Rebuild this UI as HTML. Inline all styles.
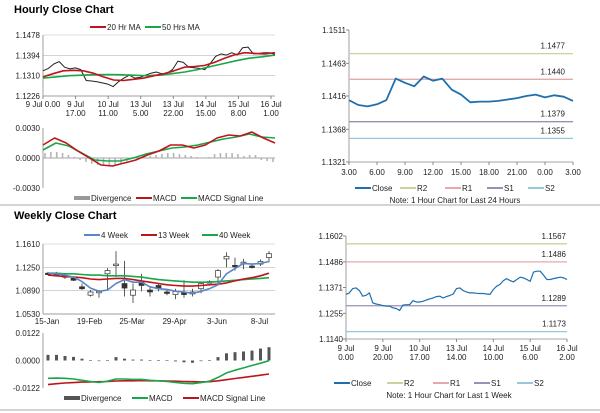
<!DOCTYPE html>
<html><head><meta charset="utf-8"><style>
body{margin:0;background:#fff;font-family:"Liberation Sans",sans-serif;}
svg{display:block}
text{font-family:"Liberation Sans",sans-serif;font-size:8px;fill:#222}
.t{font-size:11px;font-weight:bold;fill:#000}
</style></head><body>
<svg id="s" width="600" height="413">
<line x1="0" y1="205" x2="600" y2="205" stroke="#aaa"/>
<line x1="0" y1="410" x2="600" y2="410" stroke="#aaa"/>
<text x="14" y="13" class="t">Hourly Close Chart</text>
<text x="14" y="219" class="t">Weekly Close Chart</text>
</svg>
<script>
// ---------- data ----------
const hClose=[1.1330,1.1340,1.1358,1.1368,1.1345,1.1338,1.1342,1.1335,1.1290,1.1288,1.1285,1.1280,1.1275,1.1265,1.1285,1.1300,1.1312,1.1300,1.1303,1.1312,1.1320,1.1325,1.1318,1.1320,1.1335,1.1370,1.1365,1.1345,1.1343,1.1340,1.1335,1.1360,1.1390,1.1400,1.1395,1.1405,1.1395,1.1425,1.1428,1.1400,1.1402,1.1405,1.1405,1.1398];
const hMA20=[1.1305,1.1318,1.1330,1.1332,1.1330,1.1320,1.1305,1.1292,1.1290,1.1295,1.1300,1.1310,1.1318,1.1330,1.1345,1.1348,1.1352,1.1365,1.1382,1.1396,1.1405,1.1402,1.1400,1.1405];
const hMA50=[1.1300,1.1305,1.1310,1.1312,1.1314,1.1315,1.1314,1.1312,1.1310,1.1312,1.1318,1.1325,1.1335,1.1348,1.1360,1.1372,1.1382,1.1388,1.1395];
const hXLabels=[["9 Jul 0.00",""],["9 Jul","17.00"],["10 Jul","11.00"],["13 Jul","5.00"],["13 Jul","22.00"],["14 Jul","15.00"],["15 Jul","8.00"],["16 Jul","1.00"]];
const hYTicks=[1.1478,1.1394,1.1310,1.1226];
const hMacd=[0.0013,0.0020,0.0015,0.0007,0.0000,-0.0007,-0.0008,-0.0005,-0.0002,0.0003,0.0007,0.0013,0.0013,0.0010,0.0013,0.0020,0.0023,0.0022,0.0026,0.0020,0.0015];
const hSignal=[0.0008,0.0015,0.0012,0.0005,-0.0002,-0.0003,-0.0003,0.0000,0.0004,0.0007,0.0010,0.0011,0.0013,0.0016,0.0019,0.0021,0.0024,0.0021,0.0020];
const hDiv=[0.0005,0.0006,0.0006,0.0005,0.0003,0.0001,-0.0002,-0.0004,-0.0006,-0.0007,-0.0008,-0.0008,-0.0007,-0.0005,-0.0003,0.0001,0.0002,0.0002,0.0002,0.0003,0.0004,0.0005,0.0005,0.0004,0.0003,0.0002,0.0001,0.0000,0.0001,0.0004,0.0005,0.0005,0.0005,0.0004,0.0002,0.0003,0.0003,-0.0002,-0.0003,-0.0004];
const macdTicks=[0.0030,0.0000,-0.0030];

const dClose=[1.1410,1.1403,1.1401,1.1404,1.1410,1.1441,1.1435,1.1430,1.1444,1.1438,1.1441,1.1425,1.1418,1.1407,1.1408,1.1408,1.1409,1.1411,1.1413,1.1416,1.1418,1.1414,1.1417,1.1415,1.1409];
const dXLabels=["3.00","6.00","9.00","12.00","15.00","18.00","21.00","0.00","3.00"];
const dYTicks=[1.1511,1.1463,1.1416,1.1368,1.1321];
const dLevels=[1.1477,1.1440,1.1379,1.1355];

const wOpen =[1.116,1.115,1.112,1.108,1.095,1.082,1.086,1.115,1.130,1.100,1.082,1.102,1.090,1.097,1.087,1.083,1.086,1.084,1.092,1.101,1.110,1.138,1.128,1.130,1.127,1.130,1.140];
const wClose=[1.115,1.114,1.110,1.105,1.092,1.087,1.088,1.120,1.130,1.093,1.090,1.097,1.087,1.092,1.085,1.088,1.083,1.087,1.100,1.103,1.120,1.142,1.127,1.133,1.126,1.134,1.146];
const wHigh =[1.118,1.118,1.115,1.110,1.100,1.090,1.090,1.124,1.150,1.135,1.100,1.115,1.095,1.100,1.090,1.092,1.105,1.092,1.102,1.105,1.122,1.148,1.140,1.138,1.130,1.137,1.150];
const wLow  =[1.113,1.112,1.107,1.104,1.090,1.080,1.078,1.090,1.110,1.080,1.070,1.088,1.080,1.088,1.082,1.076,1.078,1.080,1.085,1.100,1.100,1.125,1.120,1.122,1.123,1.127,1.133];
const w4=[1.116,1.115,1.113,1.110,1.103,1.093,1.088,1.090,1.100,1.106,1.102,1.102,1.095,1.092,1.091,1.088,1.087,1.085,1.088,1.092,1.098,1.115,1.123,1.131,1.130,1.131,1.134];
const w13=[1.113,1.112,1.111,1.110,1.109,1.107,1.106,1.107,1.108,1.108,1.106,1.104,1.102,1.100,1.098,1.097,1.096,1.096,1.097,1.098,1.099,1.101,1.104,1.107,1.109,1.112,1.116];
const w40=[1.116,1.116,1.115,1.115,1.114,1.113,1.113,1.112,1.112,1.112,1.111,1.110,1.108,1.106,1.105,1.104,1.103,1.102,1.102,1.102,1.103,1.104,1.105,1.106,1.107,1.108,1.109];
const wXLabels=["15-Jan","19-Feb","25-Mar","29-Apr","3-Jun","8-Jul"];
const wYTicks=[1.1610,1.1250,1.0890,1.0530];
const wMacd=[-0.0079,-0.0078,-0.0079,-0.0082,-0.0088,-0.0093,-0.0097,-0.0092,-0.0082,-0.0082,-0.0084,-0.0084,-0.0088,-0.0090,-0.0093,-0.0097,-0.0101,-0.0103,-0.0098,-0.0092,-0.0075,-0.0055,-0.0043,-0.0033,-0.0022,-0.0012,-0.0001];
const wSignal=[-0.0107,-0.0103,-0.0100,-0.0098,-0.0096,-0.0095,-0.0094,-0.0093,-0.0091,-0.0090,-0.0090,-0.0089,-0.0090,-0.0090,-0.0091,-0.0092,-0.0093,-0.0094,-0.0095,-0.0094,-0.0090,-0.0085,-0.0080,-0.0075,-0.0070,-0.0065,-0.0060];
const wDiv=[0.0025,0.0025,0.0020,0.0016,0.0008,0.0002,-0.0002,0.0002,0.0015,0.0008,0.0004,0.0004,0.0002,0.0001,0.0002,-0.0004,-0.0008,-0.0010,-0.0003,0.0002,0.0015,0.0032,0.0037,0.0040,0.0044,0.0053,0.0059];
const wMacdTicks=[0.0122,0.0000,-0.0122];

const kClose=[1.1340,1.1347,1.1366,1.1369,1.1357,1.1332,1.1336,1.1347,1.1302,1.1297,1.1294,1.1290,1.1287,1.1287,1.1280,1.1277,1.1268,1.1292,1.1294,1.1294,1.1312,1.1306,1.1306,1.1309,1.1315,1.1320,1.1324,1.1330,1.1332,1.1324,1.1330,1.1335,1.1342,1.1366,1.1369,1.1357,1.1351,1.1347,1.1347,1.1345,1.1344,1.1344,1.1342,1.1340,1.1362,1.1377,1.1385,1.1402,1.1411,1.1402,1.1396,1.1407,1.1417,1.1414,1.1407,1.1399,1.1440,1.1444,1.1444,1.1426,1.1407,1.1407,1.1411,1.1414,1.1417,1.1414,1.1407];
const kXLabels=[["9 Jul","0.00"],["9 Jul","20.00"],["10 Jul","17.00"],["13 Jul","14.00"],["14 Jul","10.00"],["15 Jul","6.00"],["16 Jul","2.00"]];
const kYTicks=[1.1602,1.1486,1.1371,1.1255,1.1140];
const kLevels=[1.1567,1.1486,1.1289,1.1173];

const levelColors=["#c6d69a","#e6a8a8","#9b8fb3","#93c9d8"];
const levelNames=["r2","r1","s1","s2"];

// ---------- helpers ----------
const S=document.getElementById('s');const NS="http://www.w3.org/2000/svg";
function mk(tag,attrs,txt){const e=document.createElementNS(NS,tag);for(const k in attrs)e.setAttribute(k,attrs[k]);if(txt!==undefined)e.textContent=txt;S.appendChild(e);return e;}
function lin(d0,d1,r0,r1){return v=>r0+(v-d0)/(d1-d0)*(r1-r0);}
function poly(arr,xf,yf,color,w,name){
  const pts=arr.map((v,i)=>xf(i).toFixed(1)+","+yf(v).toFixed(1)).join(" ");
  const p=mk('polyline',{points:pts,fill:'none',stroke:color,'stroke-width':w,'stroke-linejoin':'round'});
  
  
}
function yaxis(ticks,yf,x0,x1,fmt,grid,prefix){
  ticks.forEach(t=>{
    if(grid){const g=mk('line',{x1:x0,x2:x1,y1:yf(t),y2:yf(t),stroke:'#bbb','stroke-width':0.6});
      
      }
    const l=mk('text',{x:x0-3,y:yf(t)+3,'text-anchor':'end'},t.toFixed(4));
    
    
  });
}
function axisLine(x0,y0,x1,y1,name){const a=mk('line',{x1:x0,y1:y0,x2:x1,y2:y1,stroke:'#888','stroke-width':0.8});
  
  }
function legendItem(x,y,color,label,w,name,thick){
  const l=mk('line',{x1:x,x2:x+16,y1:y,y2:y,stroke:color,'stroke-width':thick||2});
  
  
  const t=mk('text',{x:x+17,y:y+3},label);
  
  
}

// ---------- Panel 1: hourly ----------
{
 const X0=43,X1=275,yf=lin(1.1478,1.1226,35,96);
 yaxis(hYTicks,yf,X0,X1,null,true,'hourly');
 axisLine(X0,35,X0,96,'hourly-y-axis');axisLine(X0,96,X1,96,'hourly-x-axis');
 hXLabels.forEach((l,i)=>{const x=X0+i*(X1-4-X0)/7;
   const tk=mk('line',{x1:x,x2:x,y1:96,y2:99,stroke:'#888'});
   
   
   const t=mk('text',{x:x,y:107,'text-anchor':'middle'},l[0]);
   
   
   if(l[1]){const t2=mk('text',{x:x,y:116,'text-anchor':'middle'},l[1]);
   
   }
 });
 poly(hClose,i=>X0+i*(X1-X0)/(hClose.length-1),yf,'#222',1,'hourly-close-line');
 poly(hMA50,i=>X0+i*(X1-X0)/(hMA50.length-1),yf,'#1aa64a',1.6,'ma50-line');
 poly(hMA20,i=>X0+i*(X1-X0)/(hMA20.length-1),yf,'#c0141b',1.6,'ma20-line');
 legendItem(90,27,'#c0141b','20 Hr MA',0,'legend-20hr-ma');
 legendItem(145,27,'#1aa64a','50 Hrs MA',0,'legend-50hrs-ma');
 const my=lin(0.003,-0.003,128,188);
 yaxis(macdTicks,my,X0,X1,null,false,'hourly-macd');
 axisLine(X0,128,X0,188,'hourly-macd-y-axis');
 axisLine(X0,158,X1,158,'hourly-macd-zero');
 hDiv.forEach((v,i)=>{const x=X0+2+i*(X1-X0-4)/(hDiv.length-1);
   const b=mk('rect',{x:x-0.8,y:Math.min(my(v),my(0)),width:1.6,height:Math.abs(my(v)-my(0)),fill:'#b5b5b5'});
   
   });
 poly(hSignal,i=>X0+i*(X1-X0)/(hSignal.length-1),my,'#1aa64a',1.6,'hourly-macd-signal-line');
 poly(hMacd,i=>X0+i*(X1-X0)/(hMacd.length-1),my,'#c0141b',1.6,'hourly-macd-line');
 legendItem(74,198,'#999','Divergence',0,'legend-hourly-divergence',4);
 legendItem(136,198,'#c0141b','MACD',0,'legend-hourly-macd');
 legendItem(181,198,'#1aa64a','MACD Signal Line',0,'legend-hourly-signal');
}
// ---------- Panel 2: daily 24h ----------
{
 const X0=349,X1=573,yf=lin(1.1511,1.1321,30,162);
 yaxis(dYTicks,yf,X0,X1,null,false,'day');
 axisLine(X0,30,X0,162,'day-y-axis');axisLine(X0,162,X1,162,'day-x-axis');
 dYTicks.forEach(t=>{const tk=mk('line',{x1:X0-3,x2:X0,y1:yf(t),y2:yf(t),stroke:'#888'});
   
   });
 const xf=i=>X0+i*(X1-X0)/(dClose.length-1);
 dXLabels.forEach((l,i)=>{const x=xf(i*3);
   const tk=mk('line',{x1:x,x2:x,y1:162,y2:165,stroke:'#888'});
   
   
   const t=mk('text',{x:x,y:175,'text-anchor':'middle'},l);
   
   });
 dLevels.forEach((v,i)=>{const y=yf(v);
   const l=mk('line',{x1:X0,x2:X1,y1:y,y2:y,stroke:levelColors[i],'stroke-width':1.3});
   
   
   const t=mk('text',{x:X1-8,y:y-5,'text-anchor':'end','font-size':'8.5px'},v.toFixed(4));
   
   });
 poly(dClose,xf,yf,'#1f6fae',1.8,'day-close-line');
 legendItem(355,188,'#1f6fae','Close',0,'legend-day-close');
 legendItem(400,188,'#c6d69a','R2',0,'legend-day-r2');
 legendItem(445,188,'#e6a8a8','R1',0,'legend-day-r1');
 legendItem(487,188,'#9b8fb3','S1',0,'legend-day-s1');
 legendItem(528,188,'#93c9d8','S2',0,'legend-day-s2');
 const n=mk('text',{x:455,y:203,'text-anchor':'middle'},'Note: 1 Hour Chart for Last 24 Hours');
 
 
}
// ---------- Panel 3: weekly ----------
{
 const X0=43,X1=275,yf=lin(1.1610,1.0530,244,314);
 yaxis(wYTicks,yf,X0,X1,null,true,'weekly');
 axisLine(X0,244,X0,314,'weekly-y-axis');axisLine(X0,314,X1,314,'weekly-x-axis');
 const xf=i=>48+i*8.5;
 wXLabels.forEach((l,i)=>{const x=xf(i*5)-1;
   const t=mk('text',{x:x,y:324,'text-anchor':'middle'},l);
   
   });
 wOpen.forEach((o,i)=>{const c=wClose[i],x=xf(i);
   const w=mk('line',{x1:x,x2:x,y1:yf(wHigh[i]),y2:yf(wLow[i]),stroke:'#333','stroke-width':0.8});
   
   
   const top=Math.min(yf(o),yf(c)),h=Math.max(1.5,Math.abs(yf(o)-yf(c)));
   const b=mk('rect',{x:x-2.5,y:top,width:5,height:h,fill:c>=o?'#fff':'#333',stroke:'#333','stroke-width':0.7});
   
   });
 poly(w40,xf,yf,'#1aa64a',1.6,'ma40-week-line');
 poly(w13,xf,yf,'#c0141b',1.6,'ma13-week-line');
 poly(w4,xf,yf,'#5a86c5',1.6,'ma4-week-line');
 legendItem(84,235,'#5a86c5','4 Week',0,'legend-4-week');
 legendItem(141,235,'#c0141b','13 Week',0,'legend-13-week');
 legendItem(202,235,'#1aa64a','40 Week',0,'legend-40-week');
 const my=lin(0.0122,-0.0122,333,388);
 yaxis(wMacdTicks,my,X0,X1,null,false,'weekly-macd');
 axisLine(X0,333,X0,388,'weekly-macd-y-axis');
 wDiv.forEach((v,i)=>{const x=xf(i);
   const b=mk('rect',{x:x-1.5,y:Math.min(my(v),my(0)),width:3,height:Math.max(0.6,Math.abs(my(v)-my(0))),fill:'#555'});
   
   });
 poly(wSignal,xf,my,'#c0141b',1.6,'weekly-macd-signal-line');
 poly(wMacd,xf,my,'#1aa64a',1.6,'weekly-macd-line');
 legendItem(64,398,'#555','Divergence',0,'legend-weekly-divergence',4);
 legendItem(132,398,'#1aa64a','MACD',0,'legend-weekly-macd');
 legendItem(183,398,'#c0141b','MACD Signal Line',0,'legend-weekly-signal');
}
// ---------- Panel 4: 1 week hourly ----------
{
 const X0=346,X1=567,yf=lin(1.1602,1.1140,236,339);
 yaxis(kYTicks,yf,X0,X1,null,false,'week');
 axisLine(X0,236,X0,339,'week-y-axis');axisLine(X0,339,X1,339,'week-x-axis');
 kYTicks.forEach(t=>{const tk=mk('line',{x1:X0-3,x2:X0,y1:yf(t),y2:yf(t),stroke:'#888'});
   
   });
 kXLabels.forEach((l,i)=>{const x=X0+i*(X1-X0)/6;
   const tk=mk('line',{x1:x,x2:x,y1:339,y2:342,stroke:'#888'});
   
   
   const t=mk('text',{x:x,y:351,'text-anchor':'middle'},l[0]);
   
   
   const t2=mk('text',{x:x,y:360,'text-anchor':'middle'},l[1]);
   
   });
 kLevels.forEach((v,i)=>{const y=yf(v);
   const l=mk('line',{x1:X0,x2:X1,y1:y,y2:y,stroke:levelColors[i],'stroke-width':1.3});
   
   
   const t=mk('text',{x:X1-1,y:y-5,'text-anchor':'end','font-size':'8.5px'},v.toFixed(4));
   
   });
 poly(kClose,i=>X0+i*(X1-X0)/(kClose.length-1),yf,'#1f6fae',1.2,'week-close-line');
 legendItem(334,383,'#1f6fae','Close',0,'legend-week-close');
 legendItem(387,383,'#c6d69a','R2',0,'legend-week-r2');
 legendItem(433,383,'#e6a8a8','R1',0,'legend-week-r1');
 legendItem(474,383,'#9b8fb3','S1',0,'legend-week-s1');
 legendItem(517,383,'#93c9d8','S2',0,'legend-week-s2');
 const n=mk('text',{x:449,y:398,'text-anchor':'middle'},'Note: 1 Hour Chart for Last 1 Week');
 
 
}
</script>
</body></html>
